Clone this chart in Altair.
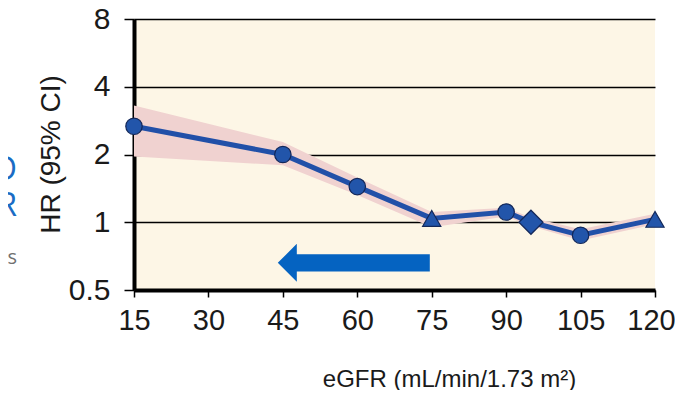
import altair as alt
import pandas as pd

# data
egfr = [15, 45, 60, 75, 90, 95, 105, 120]
hr = [2.67, 2.0, 1.44, 1.04, 1.11, 1.0, 0.875, 1.03]
hr_lo = [1.96, 1.79, 1.32, 0.95, 1.06, 0.96, 0.83, 0.98]
hr_hi = [3.3, 2.27, 1.58, 1.11, 1.16, 1.05, 0.93, 1.09]
marker = ["circle", "circle", "circle", "triangle-up", "circle", "diamond", "circle", "triangle-up"]
marker_size = [270, 270, 270, 330, 270, 580, 270, 330]
x_ticks = [15, 30, 45, 60, 75, 90, 105, 120]
y_ticks = [0.5, 1, 2, 4, 8]

arrow_x = [59.3]
arrow_y = [0.66]

side_text = ["D", "R", "s"]
side_color = ["#1a6cc4", "#1a6cc4", "#707070"]

df = pd.DataFrame({"egfr": egfr, "hr": hr, "lo": hr_lo, "hi": hr_hi,
                   "marker": marker, "msize": marker_size})
arrow_df = pd.DataFrame({"x": arrow_x, "y": arrow_y})

FONT = "Liberation Sans"

xscale = alt.Scale(domain=[15, 120], nice=False, zero=False)
yscale = alt.Scale(type="log", base=2, domain=[0.5, 8], nice=False)

xaxis = alt.Axis(values=x_ticks, title="eGFR (mL/min/1.73 m²)", grid=False,
                 domainWidth=4, domainColor="black", tickColor="black", tickWidth=1.5,
                 tickSize=7, labelFontSize=29, labelColor="#1a1a1a", labelPadding=9,
                 labelFont=FONT, titleFont=FONT, titleFontSize=24, titleFontWeight="normal",
                 titleColor="#1a1a1a", titleX=315, titleY=96, titleBaseline="alphabetic",
                 labelFlush=False,
                 labelOffset={"condition": {"test": "datum.value == 120", "value": -4}, "value": 0})
yaxis = alt.Axis(values=y_ticks, title="HR (95% CI)", grid=True, gridColor="black",
                 gridWidth=1.5, gridOpacity=1, domainWidth=4, domainColor="black",
                 tickColor="black", tickWidth=1.5, tickSize=10, labelFontSize=30,
                 labelColor="#1a1a1a", labelPadding=14, labelFont=FONT, titleFont=FONT,
                 titleFontSize=28, titleFontWeight="normal", titleColor="#1a1a1a",
                 titleX=-83, titleY=135, titleBaseline="middle", titleAngle=-90,
                 labelExpr="datum.value == 0.5 ? '0.5' : format(datum.value, 'd')",
                 labelFlush=False)

base = alt.Chart(df)

band = base.mark_area(color="#f0d2d0", opacity=1).encode(
    x=alt.X("egfr:Q", scale=xscale, axis=xaxis),
    y=alt.Y("lo:Q", scale=yscale, axis=yaxis),
    y2="hi:Q",
)

line = base.mark_line(color="#2150a8", strokeWidth=5).encode(
    x=alt.X("egfr:Q", scale=xscale),
    y=alt.Y("hr:Q", scale=yscale),
)

pts = base.mark_point(filled=True, fill="#2255aa", stroke="#13285a", strokeWidth=1.2, opacity=1).encode(
    x=alt.X("egfr:Q", scale=xscale),
    y=alt.Y("hr:Q", scale=yscale),
    shape=alt.Shape("marker:N", scale=None),
    size=alt.Size("msize:Q", scale=None),
)

arrow_path = "M -1 0 L -0.75 -0.25 L -0.75 -0.112 L 1 -0.112 L 1 0.112 L -0.75 0.112 L -0.75 0.25 Z"
arrow = alt.Chart(arrow_df).mark_point(shape=arrow_path, filled=True, fill="#0563c1",
                                       strokeWidth=0, size=152 * 152, opacity=1).encode(
    x=alt.X("x:Q", scale=xscale),
    y=alt.Y("y:Q", scale=yscale),
)

side_df = pd.DataFrame({"t": side_text, "c": side_color, "py": [151, 187, 239], "fs": [32, 32, 20]})
side = alt.Chart(side_df).mark_text(align="right", baseline="middle", font="Open Sans").encode(
    text="t:N",
    x=alt.value(-117),
    y=alt.Y("py:Q", scale=None),
    color=alt.Color("c:N", scale=None),
    size=alt.Size("fs:Q", scale=None),
)

chart = alt.layer(band, line, pts, arrow, side).properties(
    width=521, height=271,
    autosize=alt.AutoSizeParams(type="none"),
    padding={"left": 126, "top": 11, "right": 20, "bottom": 100},
).configure_view(fill="#fdf6e6", stroke=None)

chart.save("out.html", embed_options={"renderer": "svg", "actions": False})
